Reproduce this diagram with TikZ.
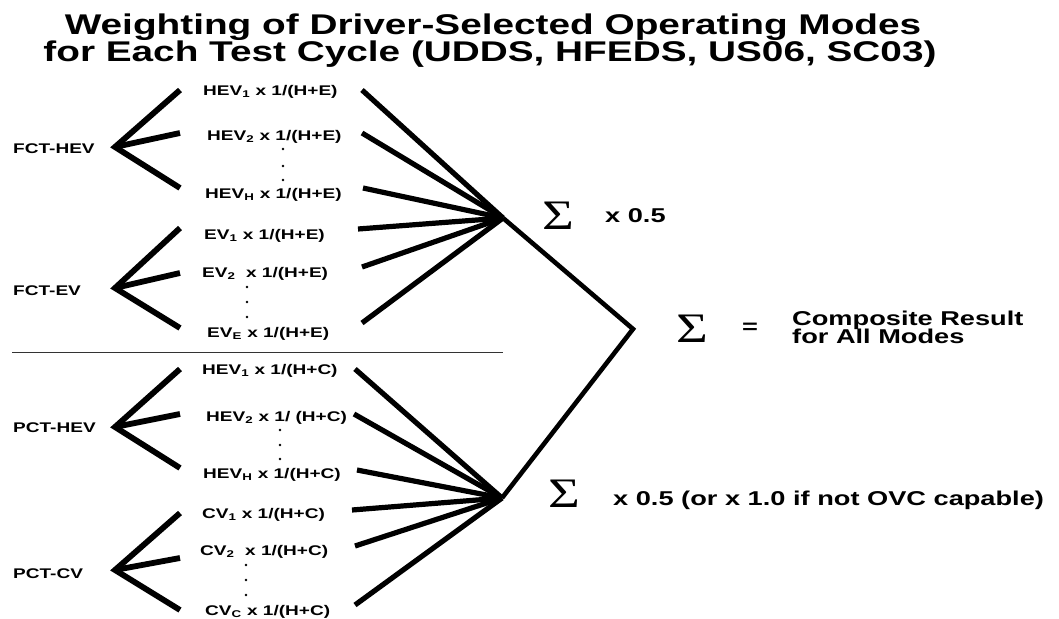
\documentclass[tikz,border=0pt]{standalone}
\usepackage{fontspec}
\setmainfont{Liberation Sans}[FakeStretch=1.36]
\newfontfamily\sigmafont{Liberation Serif}[FakeStretch=1.3]
\newcommand\sbs[1]{\textsubscript{#1}}
\tikzset{
  fan/.style={line width=5.8pt},
  feed/.style={line width=5.2pt},
  sumline/.style={line width=4.6pt, line join=miter},
  divider/.style={line width=1pt, draw=black!80},
  term/.style={anchor=base west, inner sep=0pt, font=\fontsize{14}{14}\selectfont\bfseries},
  heading/.style={anchor=base, inner sep=0pt, font=\fontsize{28.5}{28}\selectfont\bfseries},
  sigma/.style={inner sep=0pt, font=\fontsize{42}{42}\sigmafont},
  note/.style={anchor=base west, inner sep=0pt, font=\fontsize{20}{20}\selectfont\bfseries},
  dotmark/.style={fill, circle, inner sep=0pt, minimum size=2.8pt},
}
\begin{document}
\begin{tikzpicture}[x=1pt,y=-1pt]
\useasboundingbox (0,0) rectangle (1059,618);

% heading
\node[heading] (t1) at (493,35) {Weighting of Driver-Selected Operating Modes};
\node[heading] (t2) at (490,62) {for Each Test Cycle (UDDS, HFEDS, US06, SC03)};

% test groups
\node[term] (fcthev) at (13,153) {FCT-HEV};
\node[term] (fctev)  at (13,295) {FCT-EV};
\node[term] (pcthev) at (13,432) {PCT-HEV};
\node[term] (pctcv)  at (13,578) {PCT-CV};

% weighted modes, FCT part
\node[term] (h1) at (203,95)  {HEV\sbs{1} x 1/(H+E)};
\node[term] (h2) at (207,140) {HEV\sbs{2} x 1/(H+E)};
\node[term] (hH) at (205,198) {HEV\sbs{H} x 1/(H+E)};
\node[term] (e1) at (204,239) {EV\sbs{1} x 1/(H+E)};
\node[term] (e2) at (202,277) {EV\sbs{2}\ \ x 1/(H+E)};
\node[term] (eE) at (207,337) {EV\sbs{E} x 1/(H+E)};

% weighted modes, PCT part
\node[term] (ph1) at (202,374) {HEV\sbs{1} x 1/(H+C)};
\node[term] (ph2) at (206,421) {HEV\sbs{2} x 1/ (H+C)};
\node[term] (phH) at (203,478) {HEV\sbs{H} x 1/(H+C)};
\node[term] (c1)  at (202,518) {CV\sbs{1} x 1/(H+C)};
\node[term] (c2)  at (200,555) {CV\sbs{2}\ \ x 1/(H+C)};
\node[term] (cC)  at (205,615) {CV\sbs{C} x 1/(H+C)};

% ellipsis dots
\foreach \yy [count=\i] in {149,166,180} \node[dotmark] (dh\i) at (283,\yy) {};
\foreach \yy [count=\i] in {287,302,317} \node[dotmark] (de\i) at (247,\yy) {};
\foreach \yy [count=\i] in {430,445,459} \node[dotmark] (dp\i) at (280,\yy) {};
\foreach \yy [count=\i] in {565,580,595} \node[dotmark] (dc\i) at (246,\yy) {};

% fan vertices and branch ends
\coordinate (vFH) at (115,147);
\coordinate (vFE) at (115,288);
\coordinate (vPH) at (115,427);
\coordinate (vPC) at (115,570);
\coordinate (fh1) at (180,90);  \coordinate (fh2) at (180,133); \coordinate (fh3) at (180,188);
\coordinate (fe1) at (180,228); \coordinate (fe2) at (180,273); \coordinate (fe3) at (180,328);
\coordinate (ph1e) at (180,369); \coordinate (ph2e) at (180,414); \coordinate (ph3e) at (180,468);
\coordinate (pc1) at (180,513); \coordinate (pc2) at (180,558); \coordinate (pc3) at (180,610);

\draw[fan] (fh1) -- (vFH) -- (fh3);  \draw[fan] (vFH) -- (fh2);
\draw[fan] (fe1) -- (vFE) -- (fe3);  \draw[fan] (vFE) -- (fe2);
\draw[fan] (ph1e) -- (vPH) -- (ph3e); \draw[fan] (vPH) -- (ph2e);
\draw[fan] (pc1) -- (vPC) -- (pc3);  \draw[fan] (vPC) -- (pc2);

% summation points
\coordinate (sF) at (503,218);
\coordinate (sP) at (502,498);
\coordinate (tot) at (633,329);

% feeds into the FCT sum
\coordinate (a1) at (362,90);  \coordinate (a2) at (362,133); \coordinate (a3) at (363,188);
\coordinate (a4) at (358,229); \coordinate (a5) at (362,267); \coordinate (a6) at (362,323);
\foreach \k in {a1,a2,a3,a4,a5,a6} \draw[feed] (\k) -- (sF);

% feeds into the PCT sum
\coordinate (b1) at (355,369); \coordinate (b2) at (354,414); \coordinate (b3) at (357,470);
\coordinate (b4) at (352,510); \coordinate (b5) at (355,546); \coordinate (b6) at (355,605);
\foreach \k in {b1,b2,b3,b4,b5,b6} \draw[feed] (\k) -- (sP);

% combining the two sums
\draw[sumline] (sF) -- (tot) -- (sP);

% divider between FCT and PCT
\coordinate (r0) at (12,352);
\coordinate (r1) at (503,352);
\draw[divider] (r0) -- (r1);

% sums and factors
\node[sigma] (sg1) at (558,216) {Σ};
\node[note] (f1) at (605,222) {x 0.5};
\node[sigma] (sg2) at (564,494) {Σ};
\node[note] (f2) at (613,505) {x 0.5 (or x 1.0 if not OVC capable)};
\node[sigma] (sg3) at (692,329) {Σ};
\node[note, anchor=center] (eq) at (750,328) {=};
\node[note] (res1) at (792,325) {Composite Result};
\node[note] (res2) at (792,343) {for All Modes};
\end{tikzpicture}
\end{document}
